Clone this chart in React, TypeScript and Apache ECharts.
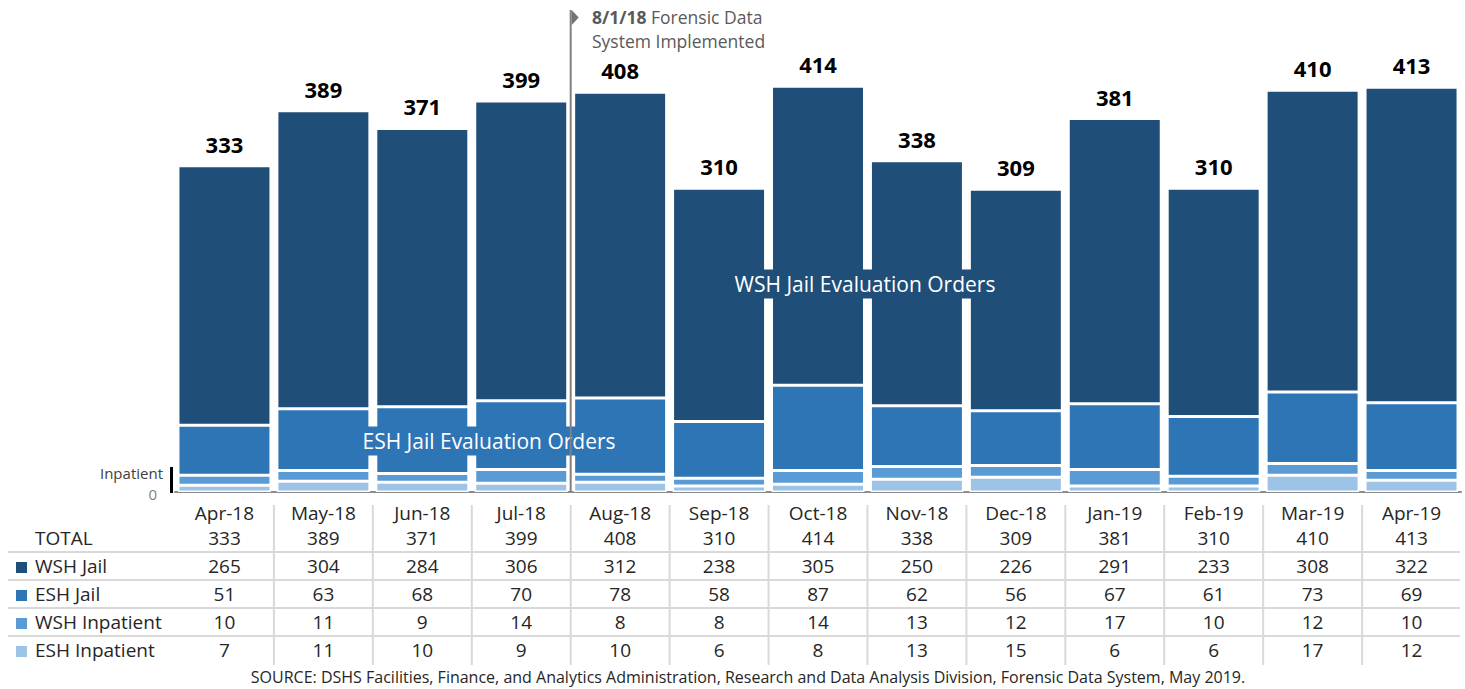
import React, { useEffect, useRef } from "react";
import * as echarts from "echarts";

const months = ["Apr-18", "May-18", "Jun-18", "Jul-18", "Aug-18", "Sep-18", "Oct-18", "Nov-18", "Dec-18", "Jan-19", "Feb-19", "Mar-19", "Apr-19"];
const totals = [333, 389, 371, 399, 408, 310, 414, 338, 309, 381, 310, 410, 413];
const wshJail = [265, 304, 284, 306, 312, 238, 305, 250, 226, 291, 233, 308, 322];
const eshJail = [51, 63, 68, 70, 78, 58, 87, 62, 56, 67, 61, 73, 69];
const wshInpatient = [10, 11, 9, 14, 8, 8, 14, 13, 12, 17, 10, 12, 10];
const eshInpatient = [7, 11, 10, 9, 10, 6, 8, 13, 15, 6, 6, 17, 12];

const rowLabels = ["TOTAL", "WSH Jail", "ESH Jail", "WSH Inpatient", "ESH Inpatient"];
const colors = { wshJail: "#1F4E79", eshJail: "#2E75B6", wshInp: "#5B9BD5", eshInp: "#9DC3E6" };

const FONT = "'Open Sans', sans-serif";
const TEXT = "#262626";
const BASE_Y = 492;
const ROW_Y = [513, 538, 566, 594, 622, 650];

function measure(text: string, font: string): number {
  const c = document.createElement("canvas").getContext("2d");
  if (!c) return text.length * 10;
  c.font = font;
  return c.measureText(text).width;
}

export default function App() {
  const ref = useRef<HTMLDivElement>(null);
  useEffect(() => {
    if (!ref.current) return;
    const chart = echarts.init(ref.current, undefined, { renderer: "svg" });
    const rows = [months, totals, wshJail, eshJail, wshInpatient, eshInpatient];
    const xAxes = rows.map((r, i) => ({
      type: "category",
      gridIndex: 0,
      position: "bottom",
      offset: ROW_Y[i] - BASE_Y,
      data: r.map(String),
      axisLine: i === 0 ? { show: true, lineStyle: { color: "#8c8c8c", width: 2 } } : { show: false },
      axisTick: { show: false },
      axisLabel: {
        interval: 0,
        margin: 0,
        verticalAlign: "middle",
        color: TEXT,
        fontFamily: FONT,
        fontSize: 19,
        lineHeight: 20,
      },
    }));
    const mkSeries = (name: string, data: number[], color: string, extra: any = {}) => ({
      name,
      type: "bar",
      stack: "all",
      xAxisIndex: 0,
      data,
      barCategoryGap: "6%",
      itemStyle: { color, borderColor: "#ffffff", borderWidth: 1.5 },
      ...extra,
    });
    const legendColors = [null, colors.wshJail, colors.eshJail, colors.wshInp, colors.eshInp];
    const graphic: any[] = [];
    rowLabels.forEach((lab, i) => {
      const y = ROW_Y[i + 1];
      graphic.push({
        type: "text",
        x: 35,
        y,
        style: { text: lab, fill: TEXT, font: `19px ${FONT}`, verticalAlign: "middle", align: "left", lineHeight: 20 },
      });
      if (legendColors[i]) {
        graphic.push({ type: "rect", shape: { x: 16, y: y - 4, width: 11, height: 11 }, style: { fill: legendColors[i] } });
      }
    });
    [552, 580, 608, 636].forEach((y) => {
      graphic.push({ type: "line", shape: { x1: 8, y1: y, x2: 1460, y2: y }, style: { stroke: "#d9d9d9", lineWidth: 2 } });
    });
    const boldFont = `bold 17.5px ${FONT}`;
    const boldW = measure("8/1/18 ", boldFont);
    graphic.push(
      { type: "text", x: 163, y: 473, style: { text: "Inpatient", fill: "#404040", font: `15px ${FONT}`, align: "right", verticalAlign: "middle", lineHeight: 15 } },
      { type: "text", x: 157, y: 494, style: { text: "0", fill: "#7f7f7f", font: `15px ${FONT}`, align: "right", verticalAlign: "middle", lineHeight: 15 } },
      { type: "rect", shape: { x: 170, y: 467, width: 3, height: 26 }, style: { fill: "#000000" } },
      {
        type: "text", x: 489, y: 441, z: 10,
        style: { text: "ESH Jail Evaluation Orders", fill: "#ffffff", font: `21px ${FONT}`, align: "center", verticalAlign: "middle", backgroundColor: colors.eshJail, padding: [4, 6] },
      },
      {
        type: "text", x: 865, y: 284, z: 10,
        style: { text: "WSH Jail Evaluation Orders", fill: "#ffffff", font: `21px ${FONT}`, align: "center", verticalAlign: "middle", backgroundColor: colors.wshJail, padding: [4, 6] },
      },
      { type: "text", x: 748, y: 677, style: { text: "SOURCE: DSHS Facilities, Finance, and Analytics Administration, Research and Data Analysis Division, Forensic Data System, May 2019.", fill: TEXT, font: `16px ${FONT}`, align: "center", verticalAlign: "middle", lineHeight: 16 } },
      { type: "text", x: 592, y: 17, style: { text: "8/1/18", fill: "#595959", font: boldFont, verticalAlign: "middle", lineHeight: 18 } },
      { type: "text", x: 592 + boldW, y: 17, style: { text: "Forensic Data", fill: "#595959", font: `17.5px ${FONT}`, verticalAlign: "middle", lineHeight: 18 } },
      { type: "text", x: 592, y: 41, style: { text: "System Implemented", fill: "#595959", font: `17.5px ${FONT}`, verticalAlign: "middle", lineHeight: 18 } }
    );
    chart.setOption({
      animation: false,
      grid: { left: 175, right: 4, top: 51, bottom: 689 - BASE_Y },
      xAxis: xAxes,
      yAxis: { type: "value", min: 0, max: 450, show: false, splitLine: { show: false } },
      series: [
        mkSeries("ESH Inpatient", eshInpatient, colors.eshInp),
        mkSeries("WSH Inpatient", wshInpatient, colors.wshInp),
        mkSeries("ESH Jail", eshJail, colors.eshJail),
        mkSeries("WSH Jail", wshJail, colors.wshJail, {
          label: {
            show: true,
            position: "top",
            distance: 11,
            formatter: (p: any) => String(totals[p.dataIndex]),
            color: "#000000",
            fontWeight: "bold",
            fontSize: 22,
            fontFamily: FONT,
          },
        }),
      ],
      graphic,
    });
    // column separators and the implementation marker, placed via the category scale
    const centers = months.map((_, i) => chart.convertToPixel({ xAxisIndex: 0 }, i) as number);
    const extra: any[] = [];
    for (let i = 0; i < centers.length - 1; i++) {
      const x = (centers[i] + centers[i + 1]) / 2;
      extra.push({ type: "line", shape: { x1: x, y1: 505, x2: x, y2: 665 }, style: { stroke: "#d9d9d9", lineWidth: 2 } });
    }
    const mx = (centers[3] + centers[4]) / 2;
    extra.push(
      { type: "line", z: 20, shape: { x1: mx, y1: 10, x2: mx, y2: BASE_Y }, style: { stroke: "#808080", lineWidth: 2 } },
      { type: "polygon", z: 20, shape: { points: [[mx + 1, 10], [mx + 8, 17.5], [mx + 1, 25]] }, style: { fill: "#737373" } }
    );
    chart.setOption({ graphic: [...graphic, ...extra] });
    return () => chart.dispose();
  }, []);
  return <div ref={ref} style={{ width: 1465, height: 689, position: "absolute", left: 0, top: 0 }} />;
}
